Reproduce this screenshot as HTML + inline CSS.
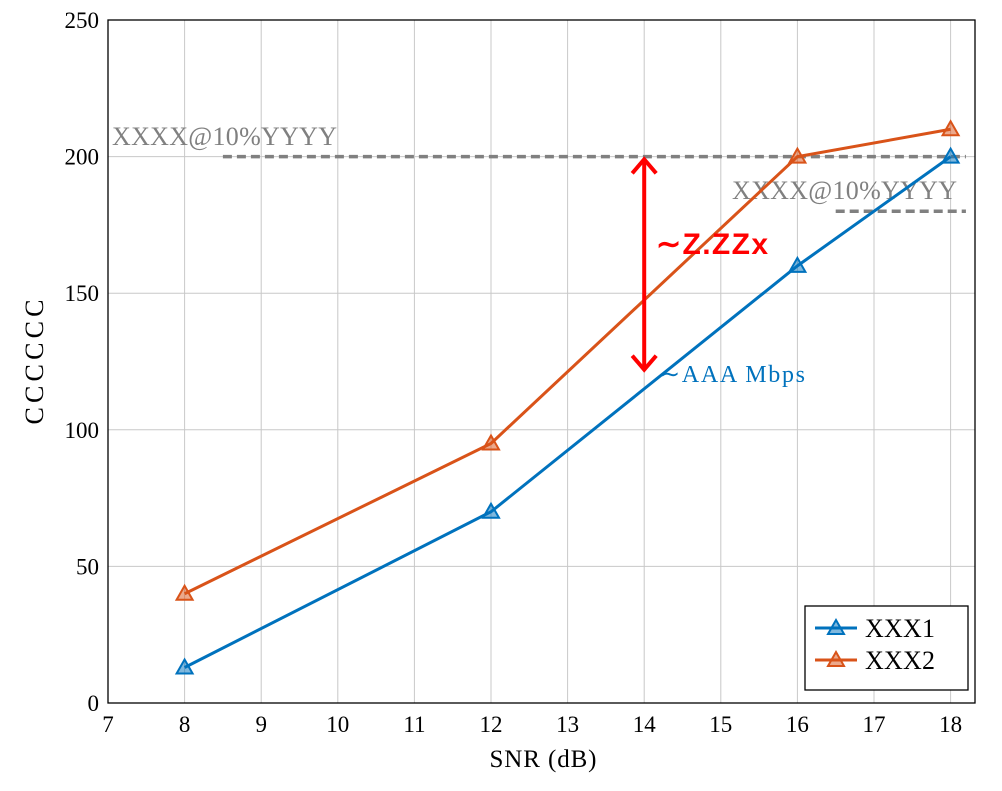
<!DOCTYPE html>
<html><head><meta charset="utf-8"><style>
body{margin:0;background:#fff;}
text{font-family:"Liberation Serif",serif;}
</style></head><body>
<svg id="chart" width="1002" height="786" viewBox="0 0 1002 786"></svg>
<script>
const categories=[8,12,16,18];
const series1=[13,70,160,200];
const series2=[40,95,200,210];
const xTicks=[7,8,9,10,11,12,13,14,15,16,17,18];
const yTicks=[0,50,100,150,200,250];
const seriesNames=["XXX1","XXX2"];
const X0=108,X1=975,Y0=703,Y1=20;
const xs=v=>X0+(v-7)*76.6;
const ys=v=>Y0-(v)*(Y0-Y1)/250;
const svg=document.getElementById('chart');
const NS='http://www.w3.org/2000/svg';
function mk(t,a,p){const e=document.createElementNS(NS,t);for(const k in a)e.setAttribute(k,a[k]);(p||svg).appendChild(e);return e;}
xTicks.forEach(t=>{const l=mk('line',{x1:xs(t),x2:xs(t),y1:Y1,y2:Y0,stroke:'#c8c8c8','stroke-width':1});


const tx=mk('text',{x:xs(t),y:Y0+29,'text-anchor':'middle','font-size':23});tx.textContent=t;

});
yTicks.forEach(t=>{const l=mk('line',{x1:X0,x2:X1,y1:ys(t),y2:ys(t),stroke:'#c8c8c8','stroke-width':1});


const tx=mk('text',{x:X0-9,y:ys(t)+8,'text-anchor':'end','font-size':23});tx.textContent=t;

});
const fr=mk('rect',{x:X0,y:Y1,width:X1-X0,height:Y0-Y1,fill:'none',stroke:'#000','stroke-width':1.3});


const d1=mk('line',{x1:xs(8.5),x2:xs(18.2),y1:ys(200),y2:ys(200),stroke:'#808080','stroke-width':3.5,'stroke-dasharray':'9,5'});


const d2=mk('line',{x1:xs(16.5),x2:xs(18.2),y1:ys(180),y2:ys(180),stroke:'#808080','stroke-width':3.5,'stroke-dasharray':'9,5'});


const t1=mk('text',{x:112,y:145,'font-size':26,fill:'#808080',textLength:225});t1.textContent='XXXX@10%YYYY';


const t2=mk('text',{x:732,y:199,'font-size':26,fill:'#808080',textLength:225});t2.textContent='XXXX@10%YYYY';


const colors=['#0072bd','#d95319'];
[series1,series2].forEach((s,i)=>{
 const pts=categories.map((c,j)=>xs(c)+','+ys(s[j])).join(' ');
 const pl=mk('polyline',{points:pts,fill:'none',stroke:colors[i],'stroke-width':3});
 
 
 categories.forEach((c,j)=>{const x=xs(c),y=ys(s[j]);
  const m=mk('polygon',{points:`${x},${y-8} ${x-8},${y+6} ${x+8},${y+6}`,fill:colors[i],'fill-opacity':0.5,stroke:colors[i],'stroke-width':2});
  
  });
});
const ax=xs(14);
const ar=mk('line',{x1:ax,x2:ax,y1:ys(199),y2:ys(122),stroke:'#ff0000','stroke-width':4});


const ah1=mk('polyline',{points:`${ax-12},${ys(199)+14} ${ax},${ys(199)} ${ax+12},${ys(199)+14}`,fill:'none',stroke:'#ff0000','stroke-width':4});


const ah2=mk('polyline',{points:`${ax-12},${ys(122)-14} ${ax},${ys(122)} ${ax+12},${ys(122)-14}`,fill:'none',stroke:'#ff0000','stroke-width':4});


const gl=mk('text',{x:656,y:254,'font-size':30,fill:'#ff0000','font-weight':'bold',textLength:112});gl.textContent='∼Z.ZZx';
gl.style.fontFamily='"Liberation Sans",sans-serif';


const ml=mk('text',{x:660,y:382,'font-size':24,fill:'#0072bd',textLength:145});ml.textContent='∼AAA Mbps';


const xt=mk('text',{x:543,y:767,'text-anchor':'middle','font-size':25,textLength:107});xt.textContent='SNR (dB)';


const yt=mk('text',{x:43,y:362,'text-anchor':'middle','font-size':26,textLength:125,transform:'rotate(-90 43 362)'});yt.textContent='CCCCCC';


const lg=mk('rect',{x:805,y:606,width:163,height:84,fill:'#fff',stroke:'#000','stroke-width':1.3});


seriesNames.forEach((n,i)=>{const y=628+i*32;
 const l=mk('line',{x1:815,x2:857,y1:y,y2:y,stroke:colors[i],'stroke-width':3});
 
 
 const m=mk('polygon',{points:`836,${y-8} 828,${y+6} 844,${y+6}`,fill:colors[i],'fill-opacity':0.5,stroke:colors[i],'stroke-width':2});
 
 
 const t=mk('text',{x:865,y:y+9,'font-size':26,textLength:70});t.textContent=n;
 
 });
</script>
</body></html>
